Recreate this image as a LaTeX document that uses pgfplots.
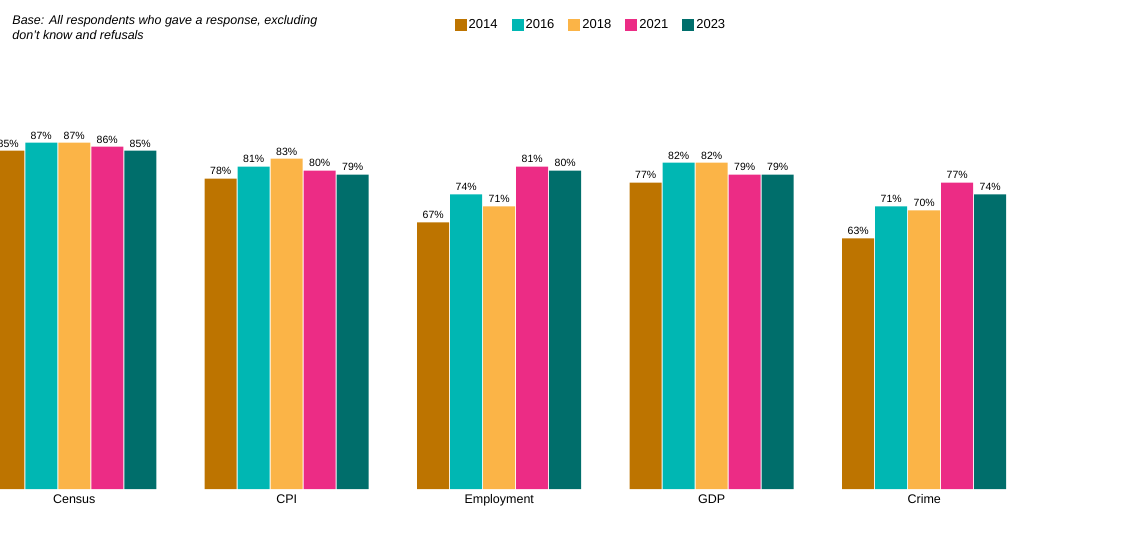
\documentclass[border=0pt]{standalone}
\usepackage{pgfplots}
\pgfplotsset{compat=1.18}
\usepackage{fontspec}
\setmainfont{Liberation Sans}
\definecolor{c14}{HTML}{BD7400}
\definecolor{c16}{HTML}{00B7B3}
\definecolor{c18}{HTML}{FBB447}
\definecolor{c21}{HTML}{EC2C85}
\definecolor{c23}{HTML}{006E6B}
\begin{document}
\begin{tikzpicture}[x=1pt,y=1pt]
\path[use as bounding box] (-74.25,-68) rectangle (1070.75,489);
\begin{axis}[at={(0,0)},anchor=origin,
 scale only axis, width=1062.5pt, height=398pt,
 xmin=-0.5, xmax=4.5, ymin=0, ymax=100,
 axis line style={draw=none}, ytick=\empty,
 xtick={0,...,4}, xticklabels={Census,CPI,Employment,GDP,Crime},
 x tick label style={font=\fontsize{12.5}{14}\selectfont, yshift=-2pt},
 major tick length=0pt,
 ybar, bar width=32pt,
 /pgf/number format/assume math mode=true,
 nodes near coords={\pgfmathprintnumber{\pgfplotspointmeta}\%},
 nodes near coords style={font=\fontsize{10.5}{12}\selectfont, black},
 legend columns=5,
 legend style={draw=none, at={(0.455,1.166)}, anchor=west, font=\fontsize{13}{15}\selectfont,
   /tikz/every even column/.append style={column sep=12pt}},
 legend image code/.code={\fill[#1] (0pt,-6pt) rectangle (12pt,6pt);},
]
\addplot[fill=c14,draw=none,bar shift=-66pt] coordinates {(0,85)(1,78)(2,67)(3,77)(4,63)};
\addplot[fill=c16,draw=none,bar shift=-33pt] coordinates {(0,87)(1,81)(2,74)(3,82)(4,71)};
\addplot[fill=c18,draw=none,bar shift=0pt] coordinates {(0,87)(1,83)(2,71)(3,82)(4,70)};
\addplot[fill=c21,draw=none,bar shift=33pt] coordinates {(0,86)(1,80)(2,81)(3,79)(4,77)};
\addplot[fill=c23,draw=none,bar shift=66pt] coordinates {(0,85)(1,79)(2,80)(3,79)(4,74)};
\legend{2014,2016,2018,2021,2023}
\end{axis}
\node[anchor=north west, align=left, font=\fontsize{12.5}{15.5}\selectfont\itshape, inner sep=0pt] at (-62,474) {Base: All respondents who gave a response, excluding\\don't know and refusals};
\end{tikzpicture}
\end{document}
